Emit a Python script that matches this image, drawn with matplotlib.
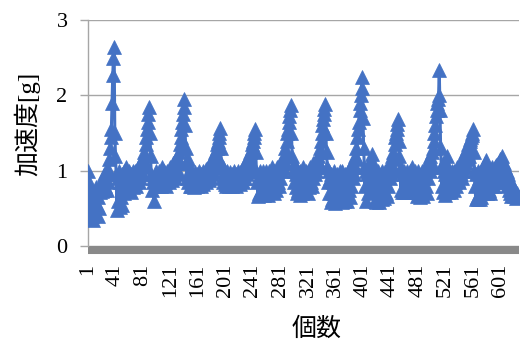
import numpy as np
import matplotlib
matplotlib.use('Agg')
import matplotlib.pyplot as plt
from matplotlib.transforms import ScaledTranslation

# acceleration samples, split into chunks around each peak
seg_a = [1.00, 0.85, 0.72, 0.60, 0.45, 0.55, 0.40, 0.62, 0.35, 0.52,
         0.70, 0.42, 0.78, 0.55, 0.40, 0.65, 0.50, 0.80, 0.72, 0.75,
         0.85, 0.73, 0.90, 0.75, 0.95, 0.80, 1.00, 0.74, 0.95, 0.85]
spike_1 = [1.00, 1.15, 1.30, 1.45, 1.55, 1.90, 2.27, 2.50, 2.64, 1.50]
seg_b = [1.20, 0.95, 0.48, 0.90, 0.60, 1.00, 0.52, 0.85, 0.65, 0.95,
         0.55, 0.80, 0.70, 1.00, 0.75, 0.90, 1.05]
seg_c = [0.95, 0.75, 1.00, 0.80, 0.90, 0.72, 0.95, 0.85, 1.00, 0.78,
         0.92, 0.85, 1.00, 0.80, 0.95, 0.90, 1.05, 0.85, 1.10, 0.90,
         1.00, 0.95, 1.10]
spike_2 = [1.15, 1.05, 1.25, 1.10, 1.35, 1.45, 1.55, 1.65, 1.75, 1.84,
           1.50, 1.20, 0.95, 0.75, 0.90]
seg_d = [0.85, 0.60, 0.90, 0.80, 1.00, 0.82, 0.95, 0.80, 1.00, 0.85,
         0.90, 0.80, 1.05, 0.85, 0.95, 0.82, 1.00, 0.85, 0.92, 0.80,
         1.00, 0.88, 0.95, 0.85, 1.05, 0.90, 1.00, 0.88, 1.10, 0.95]
spike_3 = [1.00, 1.10, 0.90, 1.15, 0.95, 1.20, 1.00, 1.25, 1.10, 1.35,
           1.45, 1.55, 1.65, 1.75, 1.85, 1.95, 1.60, 1.30, 1.10, 0.90,
           1.15, 0.85, 1.00, 0.80]
seg_e = [0.95, 0.80, 1.00, 0.82, 0.92, 0.78, 0.98, 0.85, 0.90, 0.80,
         0.95, 0.82, 1.00, 0.85, 0.90, 0.80, 0.95, 0.85, 1.00, 0.82,
         0.92, 0.88, 1.02, 0.85, 0.95, 0.90, 1.05, 0.88, 1.00, 0.92, 1.10]
spike_4 = [0.95, 1.15, 1.00, 1.20, 1.05, 1.25, 1.10, 1.30, 1.35, 1.40,
           1.45, 1.50, 1.56, 1.30, 1.10, 0.90, 1.05, 0.85, 1.00, 0.82]
seg_f = [0.95, 0.80, 1.00, 0.82, 0.92, 0.80, 0.98, 0.83, 0.90, 0.80,
         0.95, 0.85, 1.00, 0.82, 0.90, 0.80, 0.95, 0.85, 1.00, 0.85,
         0.92, 0.82, 1.00, 0.88, 0.95, 0.85, 1.05, 0.90, 1.00, 0.90]
spike_5 = [1.10, 0.95, 1.15, 1.00, 1.20, 1.05, 1.25, 1.10, 1.30, 1.35,
           1.40, 1.45, 1.50, 1.55, 1.25, 1.00, 0.85, 0.66, 0.90, 0.70,
           1.00, 0.75, 0.95, 0.70, 1.00]
seg_g = [0.80, 0.68, 0.95, 0.70, 1.00, 0.75, 0.90, 0.68, 1.00, 0.80,
         0.95, 0.72, 1.05, 0.78, 0.92, 0.70, 1.00, 0.80, 0.95, 0.75,
         1.05, 0.85, 1.00, 0.80, 1.10, 0.90, 1.05]
spike_6 = [1.00, 1.15, 1.05, 1.20, 1.10, 1.30, 1.20, 1.40, 1.50, 1.55,
           1.65, 1.72, 1.80, 1.87, 1.50, 1.20, 1.00, 1.10, 0.85, 1.00,
           0.78, 0.95]
seg_h = [0.70, 1.00, 0.75, 0.95, 0.68, 1.00, 0.80, 0.92, 0.70, 1.05,
         0.75, 0.95, 0.72, 1.00, 0.80, 0.90, 0.70, 1.00, 0.78, 1.05,
         0.85, 1.00, 0.80, 1.10, 0.90, 1.05, 0.95, 1.10]
spike_7 = [1.00, 1.15, 1.05, 1.20, 1.10, 1.30, 1.25, 1.40, 1.50, 1.60,
           1.68, 1.75, 1.82, 1.88, 1.50, 1.25, 1.05, 0.85, 1.00, 0.70, 0.90]
seg_i = [0.58, 0.95, 0.62, 0.85, 0.70, 1.00, 0.57, 0.90, 0.65, 0.95,
         0.60, 0.85, 0.75, 1.00, 0.60, 0.90, 0.58, 1.00, 0.65, 0.90,
         0.60, 0.95, 0.70, 0.85, 0.60, 1.00, 0.75, 0.95, 0.65, 1.05,
         0.80, 1.10]
spike_8 = [0.90, 1.10, 0.95, 1.20, 1.05, 1.30, 1.15, 1.45, 1.55, 1.65,
           1.80, 1.90, 2.00, 2.10, 2.24, 1.70, 1.30, 1.05, 0.80, 1.00,
           0.60, 0.95, 0.70, 1.05, 0.85, 1.10, 0.90, 1.15, 1.22, 1.00,
           0.75, 1.05, 0.60, 0.95]
seg_j = [0.58, 0.90, 0.65, 1.00, 0.58, 0.85, 0.70, 0.95, 0.62, 1.00,
         0.65, 0.90, 0.64, 1.00, 0.70, 0.95, 0.66, 1.05, 0.80, 1.00, 0.90]
spike_9 = [1.10, 0.95, 1.20, 1.05, 1.25, 1.15, 1.35, 1.45, 1.50, 1.55,
           1.62, 1.68, 1.40, 1.20, 1.00, 0.75, 1.05, 0.72, 0.95]
seg_k = [0.72, 1.00, 0.80, 0.95, 0.72, 1.00, 0.78, 0.92, 0.72, 1.00,
         0.80, 0.95, 0.72, 1.05, 0.75, 0.90, 0.72, 1.00, 0.80, 0.95,
         0.66, 1.00, 0.70, 0.90, 0.65, 0.95, 0.70, 1.00, 0.66, 0.90,
         0.75, 1.00, 0.80, 1.05, 0.70, 1.10, 0.90, 1.15]
spike_10 = [1.00, 1.20, 1.05, 1.25, 1.10, 1.30, 1.40, 1.50, 1.60, 1.72,
            1.80, 1.90, 1.95, 2.00, 2.34, 1.80, 1.30, 1.05, 0.80, 1.10,
            0.72, 1.00, 0.68, 0.95]
seg_l = [1.10, 1.20, 0.90, 0.72, 1.00, 0.75, 0.95, 0.72, 1.00, 0.80,
         0.92, 0.75, 1.00, 0.85, 0.95, 0.80, 1.05, 0.88, 1.00, 0.85,
         1.10, 0.95, 1.05, 0.90, 1.15, 1.00, 1.20]
spike_11 = [1.05, 1.25, 1.10, 1.30, 1.15, 1.35, 1.20, 1.40, 1.42, 1.45,
            1.48, 1.50, 1.55, 1.25, 1.00, 0.80, 0.62, 0.95, 0.65, 1.00]
seg_m = [0.63, 0.90, 0.62, 0.95, 0.65, 1.00, 0.70, 1.05, 0.80, 1.10,
         0.90, 1.14, 0.95, 0.70, 1.00, 0.75, 0.95, 0.70, 1.00, 0.80,
         1.05, 0.90]
seg_n = [1.00, 0.80, 1.05, 0.85, 1.08, 0.90, 1.10, 0.95, 1.12, 1.00,
         1.15, 1.10, 1.20, 1.12, 1.00, 1.10, 0.90, 1.05, 0.85, 1.00,
         0.80, 0.95, 0.75, 0.90, 0.70, 0.85, 0.67, 0.80, 0.68, 0.75,
         0.67, 0.72, 0.64, 0.68, 0.70, 0.66, 0.66, 0.65]

accel = np.array(seg_a + spike_1 + seg_b + seg_c + spike_2 + seg_d + spike_3
                 + seg_e + spike_4 + seg_f + spike_5 + seg_g + spike_6 + seg_h
                 + spike_7 + seg_i + spike_8 + seg_j + spike_9 + seg_k
                 + spike_10 + seg_l + spike_11 + seg_m + seg_n)
count = np.arange(1, len(accel) + 1)

x_ticks = [1, 41, 81, 121, 161, 201, 241, 281, 321, 361, 401, 441, 481, 521, 561, 601]
y_ticks = [0, 1, 2, 3]

blue = '#4472C4'
grid_gray = '#A6A6A6'
serif_cjk = ['Liberation Serif', 'Noto Sans CJK JP']

fig = plt.figure(figsize=(5.23, 3.42), dpi=100)
ax = fig.add_axes([88 / 523, 1 - 246 / 342, 431 / 523, 226 / 342])

ax.plot(count, accel, color=blue, lw=2.2, marker='^', ms=10,
        mec=blue, mew=0.5, zorder=3)

# thick grey bar sitting just under the zero line
shift = ScaledTranslation(0, -4 / 100, fig.dpi_scale_trans)
ax.plot([1, len(accel)], [0, 0], color='#898989', lw=5.8,
        solid_capstyle='butt', transform=ax.transData + shift,
        clip_on=False, zorder=2)

ax.set_xlim(1, len(accel))
ax.set_ylim(0, 3)
ax.set_xticks(x_ticks)
ax.set_yticks(y_ticks)
ax.yaxis.grid(True, color=grid_gray, lw=1)
ax.set_axisbelow(True)

for side in ['top', 'right', 'bottom']:
    ax.spines[side].set_visible(False)
ax.spines['left'].set_color(grid_gray)
ax.spines['left'].set_linewidth(1)

ax.tick_params(axis='y', length=5.8, width=1, color=grid_gray, pad=9)
ax.tick_params(axis='x', length=0, pad=13, labelrotation=90)
for lab in ax.get_xticklabels() + ax.get_yticklabels():
    lab.set_fontfamily('Liberation Serif')
    lab.set_fontsize(16)

ax.set_ylabel('加速度[g]', fontsize=18, family=serif_cjk)
ax.yaxis.set_label_coords(-0.11, 0.54)
ax.set_xlabel('個数', fontsize=18, family=serif_cjk)
ax.xaxis.set_label_coords(0.531, -0.315)

fig.savefig('out.png', dpi=100)
